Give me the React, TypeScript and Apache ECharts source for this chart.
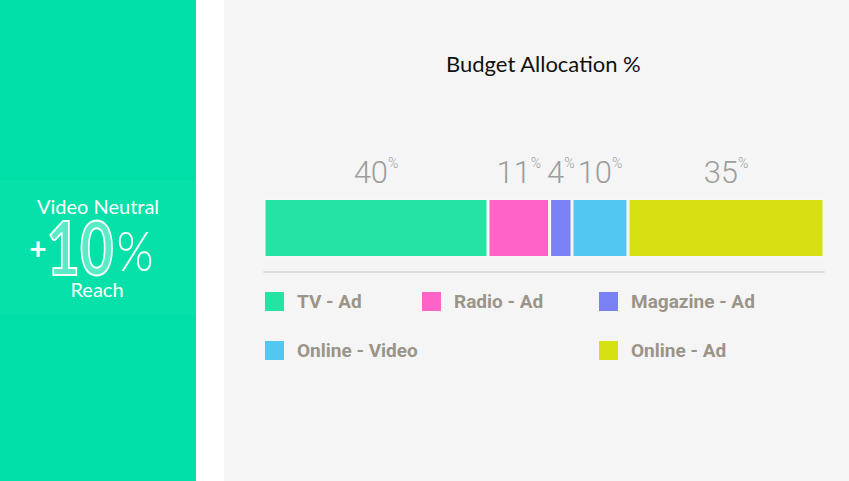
import React, { useEffect, useRef } from "react";
import * as echarts from "echarts";

const categories = ["Budget"];
const seriesNames = ["TV - Ad", "Radio - Ad", "Magazine - Ad", "Online - Video", "Online - Ad"];
const seriesValues = [40, 11, 4, 10, 35];
const seriesColors = ["#24e3a4", "#ff63c7", "#7a81f4", "#52c7f2", "#d7e013"];
const legendLeft = [265, 422, 599, 265, 599];
const legendTop = [292, 292, 292, 341, 341];

export default function App() {
  const ref = useRef<HTMLDivElement>(null);
  useEffect(() => {
    if (!ref.current) return;
    const chart = echarts.init(ref.current, null, { renderer: "svg" });
    const labelColor = "#9d9d9d";
    chart.setOption({
      animation: false,
      backgroundColor: "#f5f5f5",
      title: {
        text: "Budget Allocation %",
        left: 446,
        top: 52,
        padding: 0,
        textStyle: { fontFamily: "Lato", fontWeight: "normal", fontSize: 22, color: "#111111" },
      },
      grid: { left: 264, right: 25, top: 184, bottom: 209 },
      xAxis: {
        type: "value",
        min: 0,
        max: 100,
        axisLine: { show: true, lineStyle: { color: "#dcdcdc", width: 2 } },
        axisTick: { show: false },
        axisLabel: { show: false },
        splitLine: { show: false },
      },
      yAxis: {
        type: "category",
        data: categories,
        show: false,
      },
      legend: seriesNames.map((n, i) => ({
        data: [n],
        left: legendLeft[i],
        top: legendTop[i],
        padding: 0,
        itemWidth: 19,
        itemHeight: 19,
        icon: "rect",
        selectedMode: false,
        itemStyle: { borderWidth: 0 },
        textStyle: {
          fontFamily: "Roboto",
          fontWeight: "bold",
          fontSize: 19,
          color: "#9b9488",
          padding: [0, 0, 0, 8],
        },
      })),
      series: seriesNames.map((n, i) => ({
        name: n,
        type: "bar",
        stack: "total",
        barWidth: 59,
        data: [seriesValues[i]],
        itemStyle: { color: seriesColors[i], borderColor: "#f7f7f7", borderWidth: 1.5 },
        label: {
          show: true,
          position: "top",
          distance: 9,
          formatter: "{n|" + seriesValues[i] + "}{p|%}",
          rich: {
            n: { fontFamily: "Roboto", fontWeight: 300, fontSize: 31, color: labelColor, lineHeight: 34 },
            p: { fontFamily: "Roboto", fontWeight: 300, fontSize: 14, color: labelColor, verticalAlign: "top", lineHeight: 16 },
          },
        },
      })),
      graphic: [
        { type: "rect", left: 0, top: 0, shape: { width: 196, height: 481 }, style: { fill: "#00dfa8" }, silent: true },
        { type: "rect", left: 0, top: 180, shape: { width: 196, height: 135 }, style: { fill: "#05e1a9" }, silent: true },
        { type: "rect", left: 196, top: 0, shape: { width: 28, height: 481 }, style: { fill: "#ffffff" }, silent: true },
        {
          type: "text",
          x: 98,
          y: 206,
          style: { text: "Video Neutral", fill: "#ffffff", font: "20px Lato", textAlign: "center", textVerticalAlign: "middle" },
          silent: true,
        },
        {
          type: "text",
          x: 38,
          y: 248,
          style: { text: "+", fill: "#ffffff", font: "bold 30px Lato", textAlign: "center", textVerticalAlign: "middle" },
          silent: true,
        },
        {
          type: "text",
          x: 80,
          y: 247,
          scaleX: 0.78,
          style: {
            text: "10",
            fill: "rgba(255,255,255,0.35)",
            stroke: "#ffffff",
            lineWidth: 2,
            font: "bold 74px Lato",
            textAlign: "center",
            textVerticalAlign: "middle",
          },
          silent: true,
        },
        {
          type: "text",
          x: 135,
          y: 249,
          scaleX: 0.85,
          style: { text: "%", fill: "#ffffff", font: "300 56px Lato", textAlign: "center", textVerticalAlign: "middle" },
          silent: true,
        },
        {
          type: "text",
          x: 97,
          y: 289,
          style: { text: "Reach", fill: "#ffffff", font: "20px Lato", textAlign: "center", textVerticalAlign: "middle" },
          silent: true,
        },
      ],
    });
    return () => chart.dispose();
  }, []);
  return <div ref={ref} style={{ position: "fixed", left: 0, top: 0, width: 849, height: 481 }} />;
}
